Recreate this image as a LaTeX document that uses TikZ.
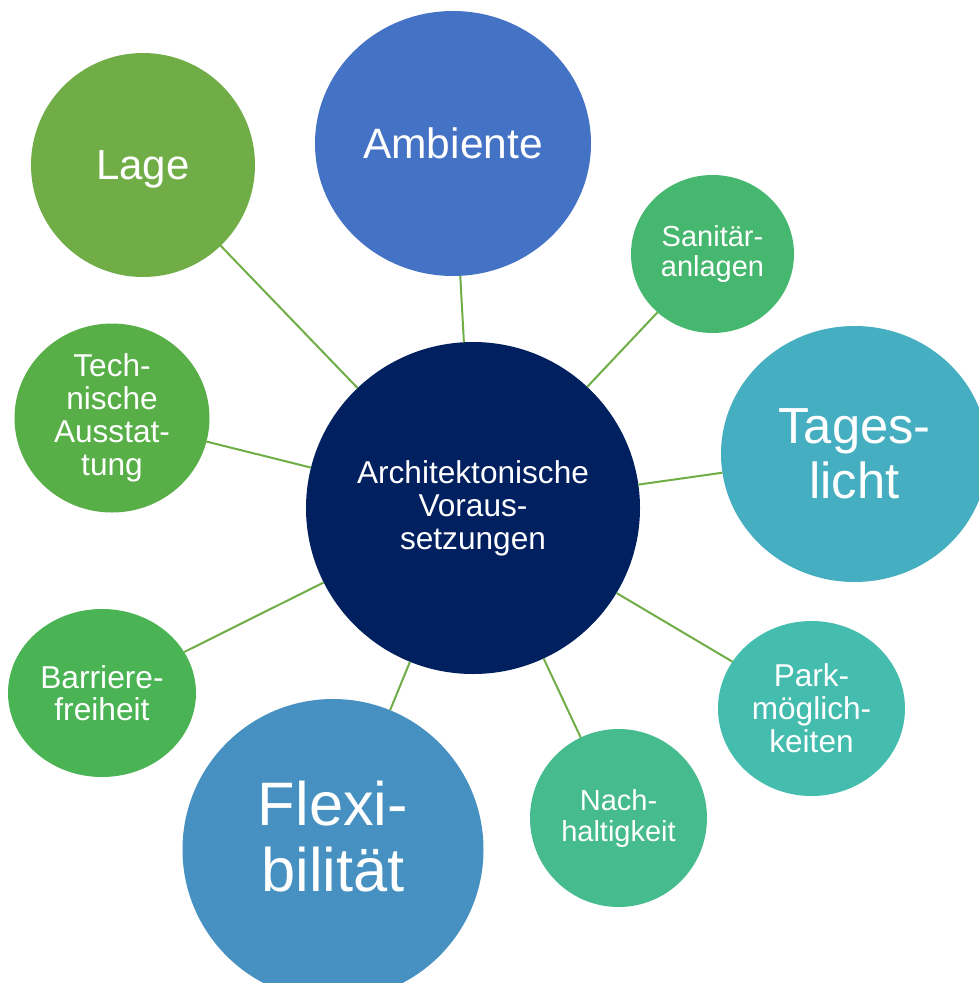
\documentclass[tikz,border=0pt]{standalone}
\usepackage{fontspec}
\setmainfont{Liberation Sans}
\usetikzlibrary{shapes.geometric}
\definecolor{cNavy}{HTML}{002060}
\definecolor{cAmb}{HTML}{4472C4}
\definecolor{cLage}{HTML}{70AD47}
\definecolor{cTech}{HTML}{58AF48}
\definecolor{cBarr}{HTML}{4AB354}
\definecolor{cFlex}{HTML}{4691C1}
\definecolor{cNach}{HTML}{45BB8E}
\definecolor{cPark}{HTML}{44BDAE}
\definecolor{cTag}{HTML}{45AEC0}
\definecolor{cSan}{HTML}{46B76E}
\definecolor{cLine}{HTML}{70AD47}
\newcommand{\fsz}[2]{\fontsize{#1}{#2}\selectfont}
\begin{document}
\begin{tikzpicture}[x=1pt,y=-1pt,
  bubble/.style={ellipse, inner sep=0pt, outer sep=0pt, align=center, text=white, draw=none},
  link/.style={draw=cLine, line width=2pt}]
\useasboundingbox (0,0) rectangle (979,983);
\fill[white] (0,0) rectangle (979,983);
% centre
\node[bubble, fill=cNavy, minimum width=334pt, minimum height=332pt, font=\fsz{31.6}{33}] (core) at (473,508) {Architektonische\\Voraus-\\setzungen};
% satellites
\node[bubble, fill=cAmb, minimum width=276pt, minimum height=265pt, font=\fsz{42.5}{46}] (amb) at (453,143.5) {Ambiente};
\node[bubble, fill=cLage, minimum width=224pt, minimum height=224pt, font=\fsz{42}{46}, text depth=0pt] (lage) at (143,165) {Lage};
\node[bubble, fill=cSan, minimum width=163pt, minimum height=158pt, font=\fsz{29}{30}] (san) at (712.5,254) {Sanitär-\\anlagen};
\node[bubble, fill=cTag, minimum width=267pt, minimum height=256pt, font=\fsz{50.7}{55}] (tag) at (854.5,454) {Tages-\\licht};
\node[bubble, fill=cTech, minimum width=195pt, minimum height=189pt, font=\fsz{31.6}{33}] (tech) at (112,418) {Tech-\\nische\\Ausstat-\\tung};
\node[bubble, fill=cBarr, minimum width=188pt, minimum height=168pt, font=\fsz{31.7}{32}] (barr) at (102,693) {Barriere-\\freiheit};
\node[bubble, fill=cPark, minimum width=187pt, minimum height=175pt, font=\fsz{31.6}{33}] (park) at (811.5,708.5) {Park-\\möglich-\\keiten};
\node[bubble, fill=cNach, minimum width=177pt, minimum height=178pt, font=\fsz{29}{31}] (nach) at (618.5,818) {Nach-\\haltigkeit};
\node[bubble, fill=cFlex, minimum width=301pt, minimum height=301pt,
  label={[text=white, align=center, font=\fsz{61.4}{66}, yshift=13pt]center:{Flexi-\\bilität}}] (flex) at (333,849.5) {};
% connectors
\draw[link] (core) -- (amb);
\draw[link] (core) -- (lage);
\draw[link] (core) -- (san);
\draw[link] (core) -- (tag);
\draw[link] (core) -- (tech);
\draw[link] (core) -- (barr);
\draw[link] (core) -- (park);
\draw[link] (core) -- (nach);
\draw[link] (core) -- (flex);
\end{tikzpicture}
\end{document}
